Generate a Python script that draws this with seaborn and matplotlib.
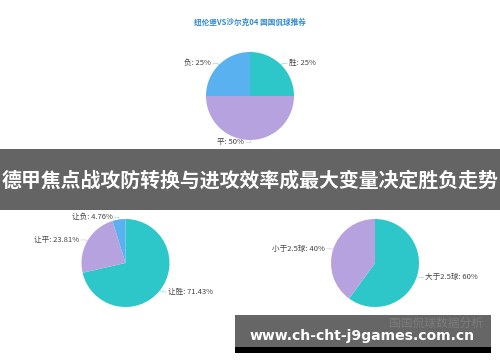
import numpy as np
import matplotlib
matplotlib.use("Agg")
import matplotlib.pyplot as plt
from matplotlib.patches import Rectangle
import seaborn as sns

# ---- data ----
title_text = "纽伦堡VS沙尔克04 国国侃球推荐"
banner_text = "德甲焦点战攻防转换与进攻效率成最大变量决定胜负走势"
watermark_url = "www.ch-cht-j9games.com.cn"
watermark_src = "国国侃球数据分析"

result_labels = ["胜", "平", "负"]
result_values = [25, 50, 25]

handicap_labels = ["让胜", "让平", "让负"]
handicap_values = [71.43, 23.81, 4.76]

goals_labels = ["大于2.5球", "小于2.5球"]
goals_values = [60, 40]

sns.set_theme(style="white")
palette = sns.color_palette(["#2ec7c9", "#b6a2de", "#5ab1ef"])
plt.rcParams["font.family"] = ["Noto Sans CJK SC", "DejaVu Sans"]

W, H = 500, 362
fig = plt.figure(figsize=(W / 100, H / 100), dpi=100)
fig.patch.set_facecolor("white")

# background / overlay axes in pixel coordinates
bg = fig.add_axes([0, 0, 1, 1])
bg.set_xlim(0, W)
bg.set_ylim(H, 0)
bg.axis("off")

bg.text(250, 22, title_text, ha="center", va="center", fontsize=5.5,
        fontweight="bold", color="#2f8ad0")

bg.add_patch(Rectangle((0, 149), W, 61, facecolor="#646464", edgecolor="none"))
bg.text(250, 180, banner_text, ha="center", va="center", fontsize=14.3,
        fontweight="bold", color="white")

bg.add_patch(Rectangle((235, 315), 256, 32, facecolor="#666666", edgecolor="none"))
bg.add_patch(Rectangle((235, 347), 256, 6, facecolor="black", edgecolor="none"))
bg.text(483, 323, watermark_src, ha="right", va="center", fontsize=8.5,
        color="#7c7c7c")
bg.text(362, 336, watermark_url, ha="center", va="center", fontsize=10.1,
        fontweight="bold", color="white", family=["DejaVu Sans"])

R = 44.0
HALF = 60.0


def draw_pie(cx, cy, labels, values):
    ax = fig.add_axes([(cx - HALF) / W, 1 - (cy + HALF) / H, 2 * HALF / W, 2 * HALF / H])
    lim = HALF / R
    wedges, _ = ax.pie(values, colors=palette[:len(values)], startangle=90,
                       counterclock=False, radius=1.0,
                       wedgeprops=dict(linewidth=0))
    ax.set_xlim(-lim, lim)
    ax.set_ylim(-lim, lim)
    ax.set_aspect("equal")
    ax.axis("off")
    for w, lab, val, col in zip(wedges, labels, values, palette):
        theta = np.deg2rad((w.theta1 + w.theta2) / 2)
        c, s = np.cos(theta), np.sin(theta)
        sign = 1 if c > 1e-9 else -1
        x0, y0 = 1.0 * c, 1.0 * s
        x1, y1 = 1.05 * c, 1.05 * s
        x2 = x1 + sign * 0.1
        ax.plot([x0, x1, x2], [y0, y1, y1], color=col, alpha=0.5, lw=0.6,
                clip_on=False)
        ax.text(x2 + sign * 0.04, y1, f"{lab}: {val:g}%",
                ha="left" if sign > 0 else "right", va="center",
                fontsize=5.5, color="#444444", clip_on=False)
    return ax


draw_pie(250, 96, result_labels, result_values)
draw_pie(125.5, 263, handicap_labels, handicap_values)
draw_pie(375, 263, goals_labels, goals_values)

fig.savefig("out.png", dpi=100)
